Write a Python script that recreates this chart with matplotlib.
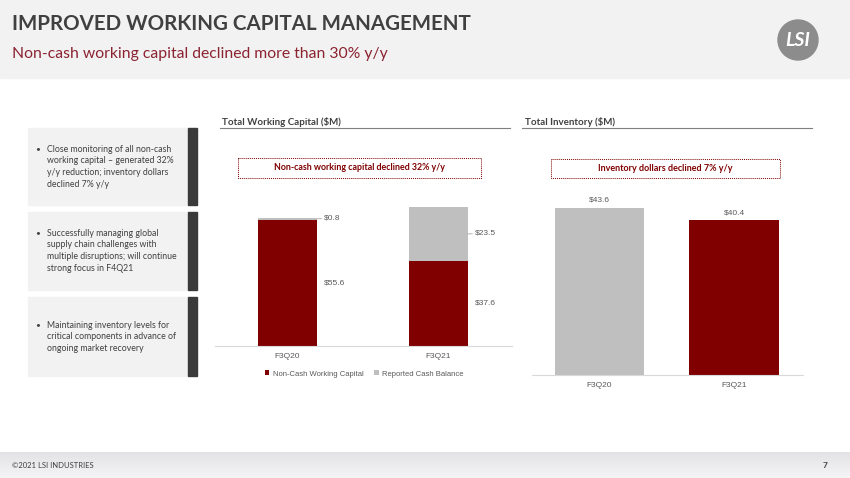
import matplotlib
matplotlib.use("Agg")
import matplotlib.pyplot as plt
from matplotlib.patches import Rectangle, Circle
import numpy as np

W, H = 850, 478

# data
quarters = ["F3Q20", "F3Q21"]
non_cash_wc = [55.6, 37.6]
cash_balance = [0.8, 23.5]
inventory = [43.6, 40.4]

bullets = [
    ["Close monitoring of all non-cash", "working capital \u2013 generated 32%",
     "y/y reduction; inventory dollars", "declined 7% y/y"],
    ["Successfully managing global", "supply chain challenges with",
     "multiple disruptions; will continue", "strong focus in F4Q21"],
    ["Maintaining inventory levels for", "critical components in advance of",
     "ongoing market recovery"],
]

DARK_RED = "#800000"
GRAY = "#bfbfbf"
TXT = "#404040"
FONT = "Lato"
CHART_FONT = "Liberation Sans"

fig = plt.figure(figsize=(8.5, 4.78), dpi=100)
fig.patch.set_facecolor("white")

# background axes in pixel coordinates (y downwards)
bg = fig.add_axes([0, 0, 1, 1])
bg.set_xlim(0, W)
bg.set_ylim(H, 0)
bg.axis("off")


def px_axes(x0, y0, x1, y1):
    return fig.add_axes([x0 / W, 1 - y1 / H, (x1 - x0) / W, (y1 - y0) / H])


# header
bg.add_patch(Rectangle((0, 0), W, 78, color="#f2f2f2", zorder=0))
bg.text(12, 24, "IMPROVED WORKING CAPITAL MANAGEMENT", fontsize=14.8, fontweight="bold",
        color=TXT, family=FONT, va="center", ha="left")
bg.text(12, 54, "Non-cash working capital declined more than 30% y/y", fontsize=11.3,
        color="#8b2331", family=FONT, va="center", ha="left")

# logo
bg.add_patch(Circle((798, 40), 20, color="#8c8c8c", zorder=2))
bg.text(798, 40, "LSI", fontsize=14, fontweight="bold", style="italic", color="white",
        family=FONT, ha="center", va="center", zorder=3)

# footer gradient
grad = np.linspace(0, 1, 50).reshape(-1, 1)
bg.imshow(grad, extent=(0, W, 478, 452), aspect="auto",
          cmap=matplotlib.colors.LinearSegmentedColormap.from_list("g", ["#e3e3e5", "#f5f5f8"]),
          zorder=0)
bg.set_xlim(0, W)
bg.set_ylim(H, 0)
bg.text(12, 465, "\u00a92021 LSI INDUSTRIES", fontsize=5.5, color=TXT, family=FONT, va="center")
bg.text(823, 465, "7", fontsize=6, fontweight="bold", color=TXT, family=FONT, va="center")

# left bullet boxes
boxes = [(128, 205, 149), (212, 290, 233), (297, 376, 325)]
for (top, bot, first), lines in zip(boxes, bullets):
    bg.add_patch(Rectangle((28, top), 160, bot - top, color="#f2f2f2", zorder=1))
    bg.add_patch(Rectangle((188, top), 9, bot - top, color="#3a3a3a", zorder=1))
    bg.text(35, first, "\u2022", fontsize=6, color=TXT, family=FONT, va="center", zorder=2)
    for i, line in enumerate(lines):
        bg.text(47, first + i * 11.7, line, fontsize=6.3, color=TXT, family=FONT,
                va="center", zorder=2)

# chart titles + underline
bg.text(222, 122, "Total Working Capital ($M)", fontsize=7, fontweight="bold", color=TXT,
        family=FONT, va="center")
bg.plot([220, 510], [127.5, 127.5], color="#7f7f7f", lw=0.8)
bg.text(525, 122, "Total Inventory ($M)", fontsize=7, fontweight="bold", color=TXT,
        family=FONT, va="center")
bg.plot([522, 812], [127.5, 127.5], color="#7f7f7f", lw=0.8)

# callout boxes
for (x0, x1, y0, y1, msg, fs) in [(238, 481, 158, 178, "Non-cash working capital declined 32% y/y", 6.4),
                                  (551, 780, 159, 178, "Inventory dollars declined 7% y/y", 6.5)]:
    bg.add_patch(Rectangle((x0, y0), x1 - x0, y1 - y0, facecolor="white", edgecolor=DARK_RED,
                           lw=0.7, ls=(0, (1, 1)), zorder=2))
    bg.text((x0 + x1) / 2, (y0 + y1) / 2, msg, fontsize=fs, fontweight="bold", color=DARK_RED,
            family=FONT, ha="center", va="center", zorder=3)


def style_axes(ax):
    for s in ["top", "left", "right"]:
        ax.spines[s].set_visible(False)
    ax.spines["bottom"].set_color("#d9d9d9")
    ax.set_yticks([])
    ax.set_xticks(range(len(quarters)), quarters)
    ax.tick_params(axis="x", length=0, pad=5, labelsize=6, labelcolor="#595959")
    for t in ax.get_xticklabels():
        t.set_family(CHART_FONT)
    ax.patch.set_alpha(0)


# chart 1: stacked working capital
ax1 = px_axes(215, 200, 512, 346)
x = np.arange(len(quarters))
w1 = 0.39
ax1.bar(x, non_cash_wc, w1, color=DARK_RED, label="Non-Cash Working Capital")
ax1.bar(x, cash_balance, w1, bottom=non_cash_wc, color=GRAY, label="Reported Cash Balance")
ax1.set_xlim(-0.48, 1.49)
ax1.set_ylim(0, 64.3)
style_axes(ax1)
lab_kw = dict(fontsize=6, color="#595959", family=CHART_FONT, va="center", ha="left")
for i in range(len(quarters)):
    xe = x[i] + w1 / 2
    ax1.text(xe + 0.05, non_cash_wc[i] / 2, f"${non_cash_wc[i]:.1f}", **lab_kw)
    ymid = non_cash_wc[i] + cash_balance[i] / 2
    ax1.annotate(f"${cash_balance[i]:.1f}", xy=(xe, ymid), xytext=(xe + 0.05, ymid + 0.3),
                 arrowprops=dict(arrowstyle="-", color="#a6a6a6", lw=0.6,
                                 shrinkA=0, shrinkB=0), **lab_kw)

fig.legend(loc="center", bbox_to_anchor=(364 / W, 1 - 374 / H), ncol=2, frameon=False,
           prop={"family": CHART_FONT, "size": 5.5}, labelcolor="#595959",
           handlelength=0.6, handleheight=0.6, columnspacing=1.4, handletextpad=0.4)

# chart 2: inventory
ax2 = px_axes(532, 195, 803, 375)
w2 = 0.665
ax2.bar(x, inventory, w2, color=[GRAY, DARK_RED])
ax2.set_xlim(-0.50, 1.51)
ax2.set_ylim(0, 46.9)
style_axes(ax2)
for i in range(len(quarters)):
    ax2.text(x[i], inventory[i] + 1.0, f"${inventory[i]:.1f}", fontsize=6, color="#595959",
             family=CHART_FONT, ha="center", va="bottom")

fig.savefig("out.png", dpi=100)
